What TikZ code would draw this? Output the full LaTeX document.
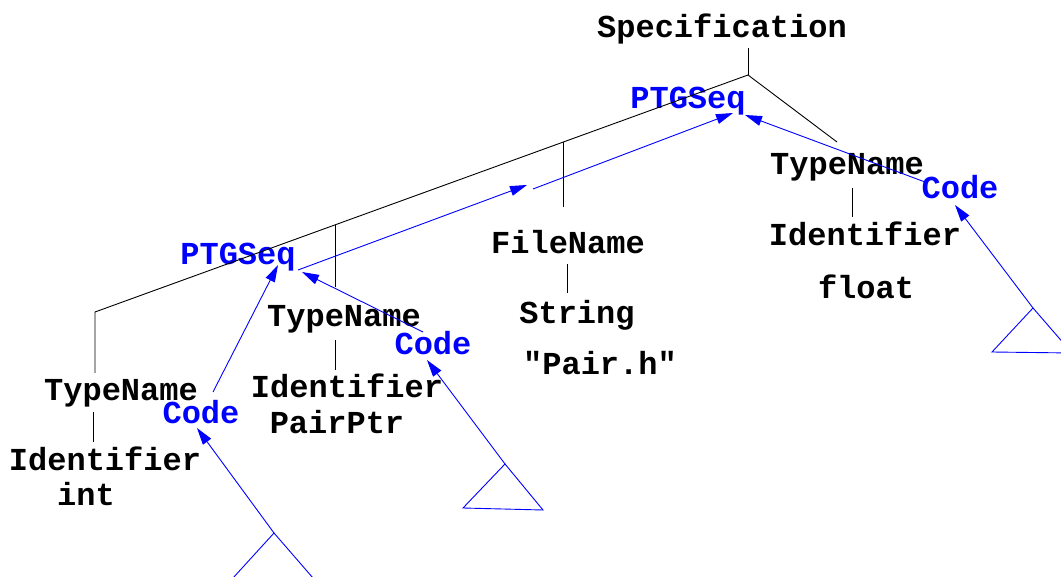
\documentclass[tikz,border=0pt]{standalone}
\usepackage{fontspec}
\setmonofont{Liberation Mono}
\usetikzlibrary{arrows.meta}
\tikzset{
  lbl/.style={anchor=base, inner sep=0pt, yshift=-2pt, font=\ttfamily\bfseries\fontsize{32}{32}\selectfont},
  tree/.style={black, line width=0.9pt},
  attr/.style={lbl, text=blue},
  flow/.style={blue, line width=0.9pt, -{Triangle[length=17pt,width=10pt]}},
  subtree/.style={blue, line width=0.9pt, line join=miter},
}
\begin{document}
\begin{tikzpicture}[x=1pt, y=-1pt]
\useasboundingbox (0,0) rectangle (1061,577);
\clip (0,0) rectangle (1061,577);

% grammar symbols
\node[lbl] (spec) at (722,36) {Specification};
\node[lbl] (tnR)  at (847,173) {TypeName};
\node[lbl] (idR)  at (865,244) {Identifier};
\node[lbl] (flt)  at (866,297) {float};
\node[lbl] (fn)   at (568,252) {FileName};
\node[lbl] (str)  at (577,322) {String};
\node[lbl] (pairh) at (600,373) {"Pair.h"};
\node[lbl] (tnM)  at (344,325) {TypeName};
\node[lbl] (idM)  at (347,396) {Identifier};
\node[lbl] (ptr)  at (337,432) {PairPtr};
\node[lbl] (tnL)  at (121,399) {TypeName};
\node[lbl] (idL)  at (105,469) {Identifier};
\node[lbl] (int)  at (86,503) {int};

% attributes
\node[attr] (seqT) at (688,107) {PTGSeq};
\node[attr] (seqL) at (238,263) {PTGSeq};
\node[attr] (codeR) at (960,197) {Code};
\node[attr] (codeM) at (433,353) {Code};
\node[attr] (codeL) at (201,422) {Code};

% tree junctions
\coordinate (s0) at (748,48);
\coordinate (j0) at (748,75);
\coordinate (jL) at (95,312);
\coordinate (jLb) at (95,373);
\coordinate (jR) at (837,142);
\coordinate (j1) at (335,225);
\coordinate (j1b) at (335,287);
\coordinate (j2) at (563,142);
\coordinate (j2b) at (563,207);

% syntax tree
\draw[tree] (s0) -- (j0);
\draw[tree] (j0) -- (jL) -- (jLb);
\draw[tree] (j0) -- (jR);
\draw[tree] (j1) -- (j1b);
\draw[tree] (j2) -- (j2b);
\draw[tree] (852,188) -- (852,217);
\draw[tree] (567,264) -- (567,293);
\draw[tree] (335,340) -- (335,370);
\draw[tree] (93,412) -- (93,442);

% subtrees computing the code
\coordinate (apL) at (274,533);
\coordinate (apM) at (505,464);
\coordinate (apR) at (1033,308);
\draw[subtree] (apL) -- ++(-41,45) -- ++(80,0) -- cycle;
\draw[subtree] (apM) -- (463,508) -- (543,510) -- cycle;
\draw[subtree] (apR) -- (992,352) -- (1072,353) -- cycle;

% attribute flow
\draw[flow] (apL) -- (197,428);
\draw[flow] (apM) -- (427,360);
\draw[flow] (apR) -- (955,205);
\draw[flow] (213,392) -- (278,265);
\draw[flow] (423,332) -- (302,272);
\coordinate (m1) at (527,185);
\coordinate (m2) at (533,189);
\draw[flow] (298,270) -- (m1);
\draw[flow] (m2) -- (733,113);
\draw[flow] (925,182) -- (745,115);
\end{tikzpicture}
\end{document}
